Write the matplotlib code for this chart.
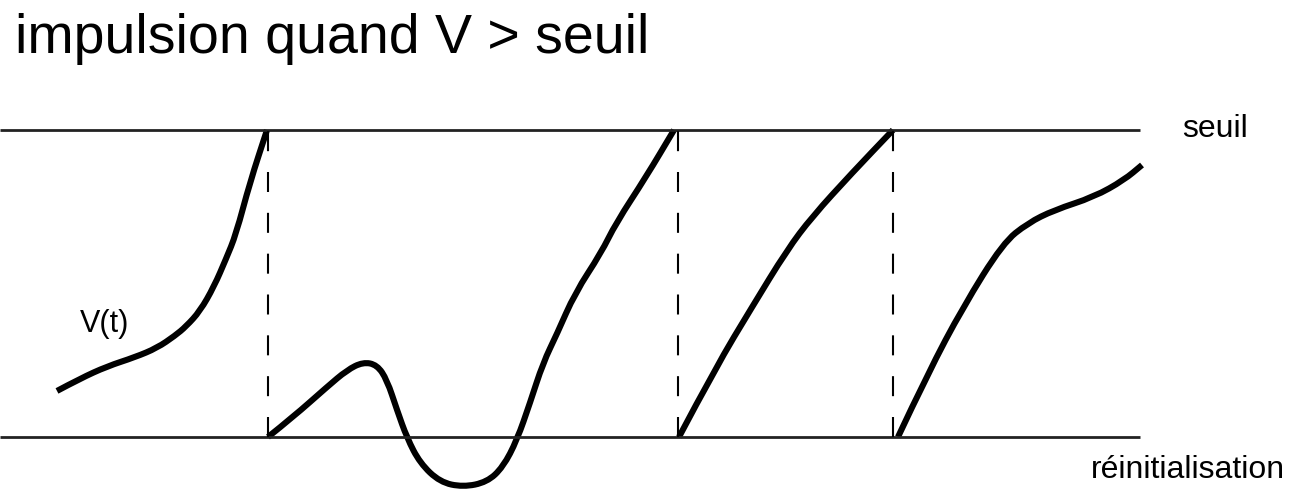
import matplotlib
matplotlib.use("Agg")
import matplotlib.pyplot as plt
from matplotlib.path import Path
from matplotlib.patches import PathPatch

plt.rcParams['font.family'] = ['Liberation Sans', 'DejaVu Sans']

# membrane potential V(t), normalised: 0 = reset, 1 = threshold
seg1_t = [5.7, 8.0, 10.7, 13.5, 15.7, 17.5, 18.6, 20.0, 21.4, 22.6, 23.6, 25.0, 26.7]
seg1_v = [0.15, 0.19, 0.23, 0.26, 0.29, 0.33, 0.36, 0.41, 0.49, 0.58, 0.66, 0.83, 1.00]

seg2_t = [26.8, 29.3, 32.7, 34.7, 36.3, 37.7, 38.7, 39.7, 40.7, 42.0, 44.0, 46.3,
          48.7, 50.3, 51.7, 53.0, 54.3, 55.7, 57.5, 60.1, 61.6, 64.6, 67.4]
seg2_v = [0.00, 0.065, 0.163, 0.218, 0.244, 0.235, 0.186, 0.088, -0.003, -0.085, -0.147, -0.163,
          -0.147, -0.098, -0.010, 0.111, 0.241, 0.336, 0.469, 0.599, 0.697, 0.847, 1.00]

seg3_t = [67.9, 71.6, 75.2, 78.7, 81.2, 85.2, 89.3]
seg3_v = [0.00, 0.228, 0.423, 0.609, 0.717, 0.860, 1.00]

seg4_t = [89.8, 92.8, 96.3, 100.3, 102.8, 105.4, 109.4, 112.4, 114.2]
seg4_v = [0.00, 0.208, 0.423, 0.632, 0.697, 0.739, 0.782, 0.837, 0.886]

spike_times = [26.8, 67.8, 89.3]
threshold = 1.0
reset = 0.0
t_end = 114.0

fig = plt.figure(figsize=(12.89, 4.92), dpi=100)
ax = fig.add_axes([0, 0, 1, 1])
ax.set_xlim(0, 128.9)
ax.set_ylim(-0.1792, 1.4235)
ax.axis('off')


def smooth_path(ts, vs):
    # quadratic bezier through midpoints so the curve looks hand drawn
    pts = list(zip(ts, vs))
    verts = [pts[0]]
    codes = [Path.MOVETO]
    for i in range(1, len(pts) - 1):
        mid = ((pts[i][0] + pts[i + 1][0]) / 2, (pts[i][1] + pts[i + 1][1]) / 2)
        verts += [pts[i], mid]
        codes += [Path.CURVE3, Path.CURVE3]
    verts.append(pts[-1])
    codes.append(Path.LINETO)
    return Path(verts, codes)


# threshold and reset levels
ax.plot([0, t_end], [threshold, threshold], color='#222222', lw=2.0, solid_capstyle='butt')
ax.plot([0, t_end], [reset, reset], color='#222222', lw=2.0, solid_capstyle='butt')

# spikes
for ts in spike_times:
    ax.plot([ts, ts], [reset, threshold], color='black', lw=1.5,
            linestyle=(0, (9.6, 10.0)))

for ts, vs in [(seg1_t, seg1_v), (seg2_t, seg2_v), (seg3_t, seg3_v), (seg4_t, seg4_v)]:
    ax.add_patch(PathPatch(smooth_path(ts, vs), fill=False, edgecolor='black',
                           lw=4.4, capstyle='butt', joinstyle='round'))

ax.text(8.0, 0.342, 'V(t)', fontsize=22, ha='left', va='baseline')
ax.text(118.2, 0.977, 'seuil', fontsize=23, ha='left', va='baseline')
ax.text(128.5, -0.1336, 'réinitialisation', fontsize=23, ha='right', va='baseline')

fig.text(15 / 1289, 1 - 53 / 492, 'impulsion quand V > seuil', fontsize=40,
         ha='left', va='baseline')

fig.savefig('out.png', dpi=100)
